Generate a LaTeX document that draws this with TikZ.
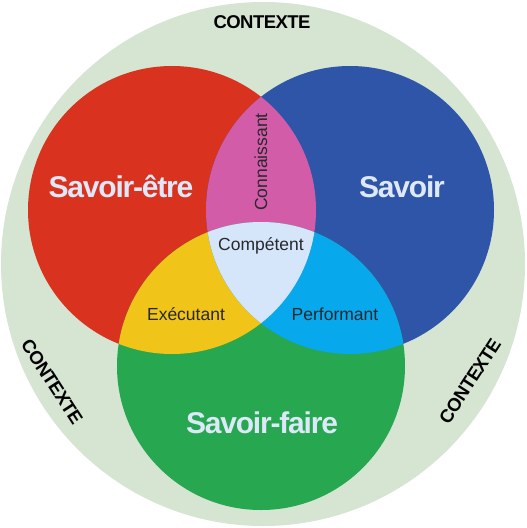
\documentclass[tikz,border=0pt]{standalone}
\usepackage{fontspec}
\setmainfont{Liberation Sans}
\newfontfamily\grosfont[LetterSpace=-4]{Liberation Sans}
\newfontfamily\ctxfont[LetterSpace=-3]{Liberation Sans}
\usepackage{tikz}
\tikzset{x=1pt,y=-1pt}
\definecolor{fond}{RGB}{214,228,210}
\definecolor{rouge}{RGB}{217,50,30}
\definecolor{bleu}{RGB}{47,85,168}
\definecolor{vert}{RGB}{38,167,80}
\definecolor{rose}{RGB}{211,92,168}
\definecolor{jaune}{RGB}{240,196,24}
\definecolor{ciel}{RGB}{8,168,236}
\definecolor{centre}{RGB}{214,230,250}
\definecolor{libelle}{RGB}{221,232,248}
\definecolor{texte}{RGB}{40,40,45}
\def\rayon{144}

\begin{document}
\begin{tikzpicture}[
  grand/.style={font=\grosfont\bfseries\fontsize{30}{31}\selectfont, text=libelle, anchor=base},
  petit/.style={font=\fontsize{17.5}{19}\selectfont, text=texte, anchor=base},
  contexte/.style={font=\ctxfont\bfseries\fontsize{18.5}{19}\selectfont, text=black, inner sep=0pt}]
\useasboundingbox (0,0) rectangle (527,528);
    \coordinate (milieu) at (263,264);
    \coordinate (etre) at (172,210);
    \coordinate (savoir) at (350,210);
    \coordinate (faire) at (261,366);
    % fond
    \fill[fond] (milieu) circle (262);
    % les trois cercles
    \fill[rouge] (etre) circle (\rayon);
    \fill[bleu] (savoir) circle (\rayon);
    \fill[vert] (faire) circle (\rayon);
    % intersections
    \begin{scope}
      \clip (etre) circle (\rayon);
      \fill[rose] (savoir) circle (\rayon);
      \fill[jaune] (faire) circle (\rayon);
    \end{scope}
    \begin{scope}
      \clip (savoir) circle (\rayon);
      \fill[ciel] (faire) circle (\rayon);
      \clip (etre) circle (\rayon);
      \fill[centre] (faire) circle (\rayon);
    \end{scope}
    % libelles
    \node[grand] (lEtre) at (121,197) {Savoir-être};
    \node[grand] (lSavoir) at (402,197) {Savoir};
    \node[grand] (lFaire) at (262,433) {Savoir-faire};
    \node[petit, rotate=90] (lConn) at (267,162) {Connaissant};
    \node[petit] (lComp) at (261,250) {Compétent};
    \node[petit] (lExec) at (186,320) {Exécutant};
    \node[petit] (lPerf) at (335,320) {Performant};
    % contexte
    \node[contexte] (ctxHaut) at (262,22) {CONTEXTE};
    \node[contexte, rotate=-57] (ctxGauche) at (52,382) {CONTEXTE};
    \node[contexte, rotate=57] (ctxDroite) at (470,381) {CONTEXTE};
\end{tikzpicture}
\end{document}
